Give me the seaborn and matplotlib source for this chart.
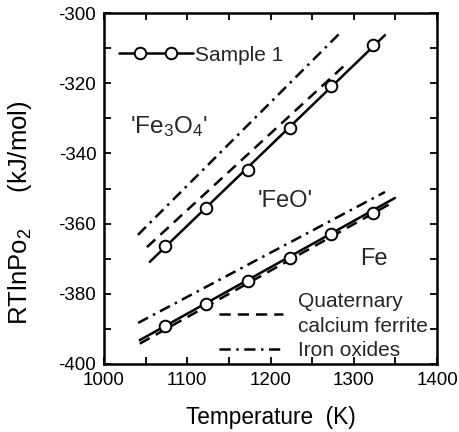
import matplotlib
matplotlib.use("Agg")
import matplotlib.pyplot as plt
import seaborn as sns
import pandas as pd
from matplotlib.lines import Line2D
from matplotlib.legend_handler import HandlerLine2D
from matplotlib.ticker import MultipleLocator

# ---- data ----
sample_T = [1073, 1123, 1173, 1223, 1273, 1323]
sample_upper = [-366.4, -355.5, -344.7, -332.8, -320.8, -309.1]
sample_lower = [-389.2, -382.9, -376.4, -369.8, -363.0, -356.9]

upper_solid_T = [1055, 1337.5]
upper_solid_v = [-370.9, -306.3]
upper_dashed_T = [1051.6, 1289.5]
upper_dashed_v = [-366.7, -314.8]
upper_dashdot_T = [1040.8, 1283.5]
upper_dashdot_v = [-363.2, -305.7]

lower_solid_T = [1043, 1349.5]
lower_solid_v = [-393.2, -352.7]
lower_dashed_T = [1043, 1348]
lower_dashed_v = [-394.2, -353.8]
lower_dashdot_T = [1041, 1337.5]
lower_dashdot_v = [-388.3, -351.0]

x_ticks = [1000, 1100, 1200, 1300, 1400]
y_ticks = [-400, -380, -360, -340, -320, -300]

sns.set_style("ticks")
plt.rcParams['font.family'] = ['Liberation Sans', 'DejaVu Sans']
plt.rcParams['axes.unicode_minus'] = False
plt.rcParams['mathtext.fontset'] = 'custom'
plt.rcParams['mathtext.rm'] = 'Liberation Sans'
plt.rcParams['mathtext.it'] = 'Liberation Sans'

fig = plt.figure(figsize=(4.59, 4.32), dpi=100)
ax = fig.add_axes([104/459, 1-364/432, 333/459, 351/432])

lw = 1.8
dash = (4.5, 2.8)
dashdot = (4.5, 2.2, 1.0, 2.2)

def line(T, v, ls):
    df = pd.DataFrame({"T": T, "v": v})
    sns.lineplot(data=df, x="T", y="v", ax=ax, color="black", lw=lw,
                 sort=False, estimator=None)
    ln = ax.get_lines()[-1]
    if ls is not None:
        ln.set_dashes(ls)
    return ln

line(upper_solid_T, upper_solid_v, None)
line(upper_dashed_T, upper_dashed_v, dash)
line(upper_dashdot_T, upper_dashdot_v, dashdot)
line(lower_solid_T, lower_solid_v, None)
line(lower_dashed_T, lower_dashed_v, dash)
line(lower_dashdot_T, lower_dashdot_v, dashdot)

pts = pd.DataFrame({"T": sample_T + sample_T, "v": sample_upper + sample_lower})
sns.scatterplot(data=pts, x="T", y="v", ax=ax, s=70, marker="o",
                facecolor="white", edgecolor="black", linewidth=1.4, zorder=5)

ax.set_xlim(1000, 1400)
ax.set_ylim(-400, -300)
ax.set_xticks(x_ticks)
ax.set_yticks(y_ticks)
ax.xaxis.set_minor_locator(MultipleLocator(50))
ax.yaxis.set_minor_locator(MultipleLocator(10))
ax.tick_params(which="both", direction="in", top=True, right=True,
               width=1.3, length=5, labelsize=13.5, pad=5.5, color="black",
               labelcolor="black")
for s in ax.spines.values():
    s.set_linewidth(1.8)
    s.set_color("black")

ax.set_xlabel("Temperature  (K)", fontsize=16.3, color="black")
ax.set_ylabel("RTlnPo$_2$     (kJ/mol)", fontsize=18.5, color="black")
ax.xaxis.set_label_coords(0.5, -0.121)
ax.yaxis.set_label_coords(-0.21, 0.43)

ax.text(1031, -334.2, "'Fe$_3$O$_4$'", fontsize=17.5, ha="left", va="baseline")
ax.text(1185, -355.3, "'FeO'", fontsize=17, ha="left", va="baseline")
ax.text(1307.5, -371.8, "Fe", fontsize=17, ha="left", va="baseline")

# legends
fs_leg = 15
h1_line = Line2D([], [], color="black", lw=lw)
h1_mark = Line2D([], [], color="black", lw=0, linestyle="none", marker="o",
                 markersize=8.3, markerfacecolor="white",
                 markeredgecolor="black", markeredgewidth=1.4)
leg1 = ax.legend([(h1_line, h1_mark)], ["Sample 1"], loc="center left",
                 bbox_to_anchor=(0.045, 0.880), frameon=False, fontsize=fs_leg,
                 borderpad=0, borderaxespad=0, handlelength=3.55,
                 handletextpad=0.1, numpoints=2,
                 handler_map={h1_line: HandlerLine2D(marker_pad=0, numpoints=2),
                              h1_mark: HandlerLine2D(marker_pad=1.03, numpoints=2)})
ax.add_artist(leg1)

h2 = Line2D([], [], color="black", lw=lw, dashes=dash)
h3 = Line2D([], [], color="black", lw=lw, dashes=dashdot)
leg2 = ax.legend([h2, h3], ["Quaternary\ncalcium ferrite", "Iron oxides"],
                 loc="center left", bbox_to_anchor=(0.345, 0.108),
                 frameon=False, fontsize=fs_leg, borderpad=0, borderaxespad=0,
                 handlelength=3.1, handletextpad=0.7, labelspacing=0.28)
for t in leg2.get_texts():
    t.set_linespacing(1.38)

fig.savefig("out.png", dpi=100)
